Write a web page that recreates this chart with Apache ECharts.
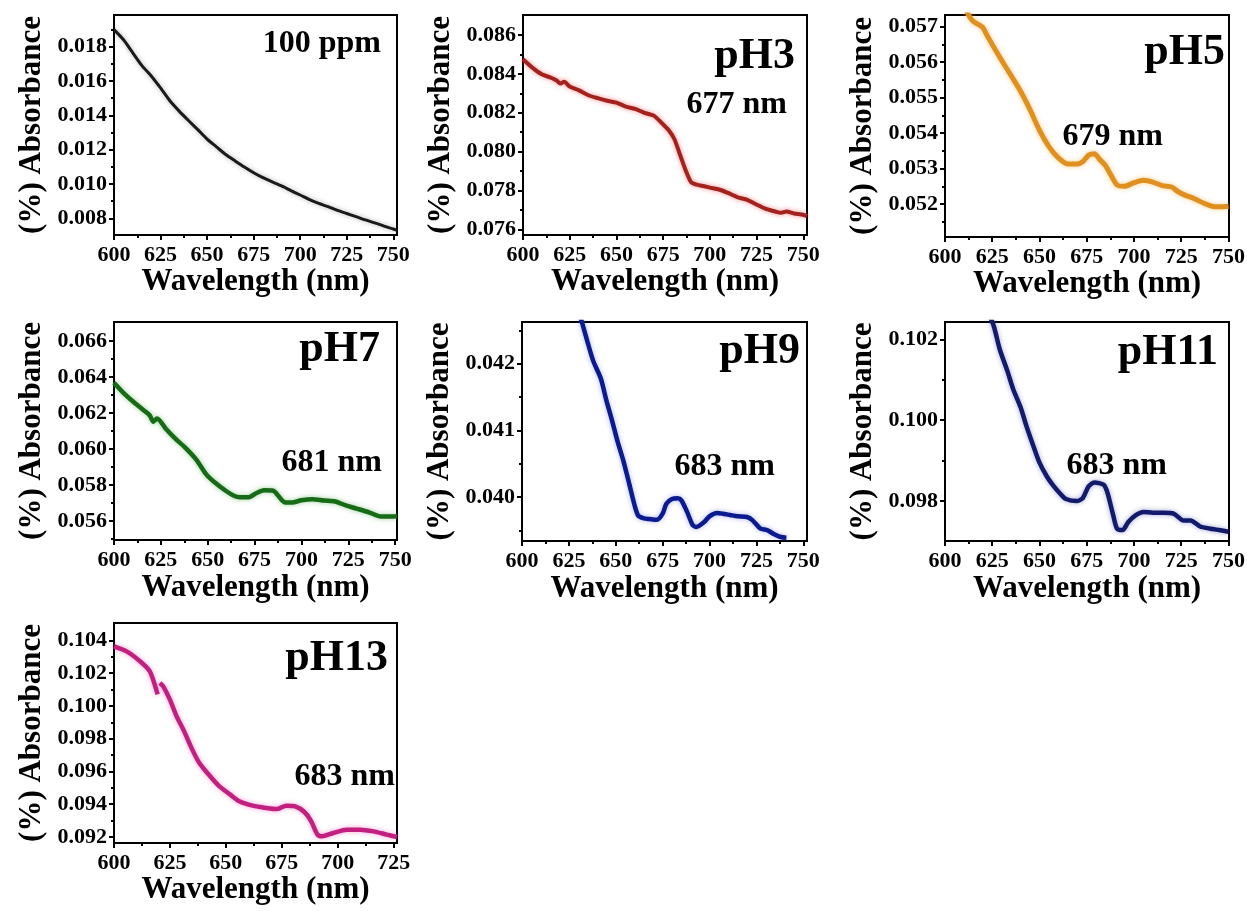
<!DOCTYPE html>
<html>
<head>
<meta charset="utf-8">
<script src="https://cdn.jsdelivr.net/npm/echarts@6/dist/echarts.min.js"></script>
<style>
html, body { margin: 0; padding: 0; background: #fff; }
#main { width: 1247px; height: 911px; }
</style>
</head>
<body>
<div id="main"></div>
<script>
// ---- spectra (wavelength nm / absorbance) ----
const wl100 = [600, 605, 610, 615, 620, 625, 630, 635, 640, 645, 650, 655, 660, 665, 670, 675, 680, 685, 690, 695, 700, 705, 710, 715, 720, 725, 730, 735, 740, 745, 750, 752]
const abs100 = [0.0190, 0.01842, 0.01766, 0.01690, 0.01630, 0.01560, 0.01485, 0.01425, 0.01370, 0.01317, 0.01262, 0.01217, 0.01172, 0.01135, 0.01099, 0.01066, 0.01037, 0.01012, 0.00989, 0.00962, 0.00936, 0.00909, 0.00887, 0.00868, 0.00846, 0.00828, 0.00810, 0.00791, 0.00774, 0.00755, 0.00738, 0.00730]

const wl3 = [600, 605, 610, 615, 618, 620, 622, 625, 630, 635, 640, 645, 650, 655, 660, 665, 670, 675, 678, 681, 684, 687, 690, 693, 697, 700, 705, 710, 715, 720, 725, 730, 735, 738, 741, 745, 750, 752]
const abs3 = [0.08475, 0.08432, 0.08398, 0.08380, 0.08366, 0.08350, 0.08360, 0.08335, 0.08315, 0.08290, 0.08275, 0.08262, 0.08252, 0.08232, 0.08220, 0.08200, 0.08185, 0.08140, 0.08110, 0.08065, 0.07985, 0.07905, 0.07842, 0.07830, 0.07822, 0.07815, 0.07805, 0.07786, 0.07765, 0.07752, 0.07728, 0.07705, 0.07692, 0.07685, 0.07692, 0.07682, 0.07675, 0.07668]

const wl5 = [610, 613, 615, 618, 620, 622, 625, 630, 635, 640, 645, 650, 655, 660, 665, 670, 673, 676, 679, 682, 685, 688, 691, 695, 700, 705, 710, 715, 720, 723, 727, 732, 737, 742, 746, 750]
const abs5 = [0.05760, 0.05728, 0.05715, 0.05705, 0.05698, 0.05678, 0.05650, 0.05605, 0.05562, 0.05518, 0.05466, 0.05408, 0.05362, 0.05330, 0.05313, 0.05313, 0.05320, 0.05338, 0.05342, 0.05325, 0.05308, 0.05280, 0.05254, 0.05250, 0.05260, 0.05267, 0.05262, 0.05252, 0.05248, 0.05236, 0.05225, 0.05215, 0.05202, 0.05193, 0.05192, 0.05194]

const wl7 = [600, 605, 610, 615, 619, 621, 623, 628, 633, 638, 644, 649, 654, 660, 664, 667, 672, 676, 680, 685, 688, 691, 695, 700, 706, 712, 718, 724, 730, 736, 742, 746, 751]
const abs7 = [0.06368, 0.06312, 0.06265, 0.06222, 0.06188, 0.06152, 0.06170, 0.06108, 0.06055, 0.06008, 0.05940, 0.05862, 0.05812, 0.05765, 0.05740, 0.05732, 0.05732, 0.05755, 0.05770, 0.05768, 0.05735, 0.05704, 0.05702, 0.05715, 0.05721, 0.05713, 0.05708, 0.05685, 0.05667, 0.05648, 0.05625, 0.05624, 0.05626]

const wl9 = [630, 632, 635, 638, 642, 645, 648, 651, 654, 657, 660, 662, 665, 668, 672, 675, 677, 680, 683, 685, 688, 691, 693, 697, 700, 704, 707, 711, 715, 720, 723, 727, 731, 734, 738, 741]
const abs9 = [0.04280, 0.04262, 0.04232, 0.04204, 0.04178, 0.04145, 0.04115, 0.04083, 0.04055, 0.04022, 0.03988, 0.03972, 0.03968, 0.03967, 0.03966, 0.03975, 0.03990, 0.03997, 0.03998, 0.03995, 0.03978, 0.03958, 0.03955, 0.03962, 0.03971, 0.03976, 0.03975, 0.03973, 0.03971, 0.03970, 0.03965, 0.03953, 0.03950, 0.03945, 0.03940, 0.03939]

const wl11 = [624, 626, 629, 633, 636, 640, 643, 647, 650, 654, 657, 661, 664, 670, 673, 676, 679, 684, 686, 689, 691, 694, 697, 701, 705, 710, 716, 721, 726, 730, 735, 740, 745, 750]
const abs11 = [0.10255, 0.10230, 0.10175, 0.10122, 0.10078, 0.10032, 0.09987, 0.09933, 0.09895, 0.09860, 0.09840, 0.09818, 0.09805, 0.09800, 0.09808, 0.09836, 0.09846, 0.09840, 0.09820, 0.09765, 0.09732, 0.09728, 0.09748, 0.09765, 0.09773, 0.09771, 0.09771, 0.09769, 0.09752, 0.09752, 0.09737, 0.09732, 0.09728, 0.09724]

// null = the small break in the pH13 trace near 620 nm
const wl13 = [600, 606, 612, 616, 619.5, 620, 620.5, 622, 625, 628, 631, 635, 638, 643, 647, 652, 656, 662, 668, 673, 677, 681, 685, 688, 691, 693, 698, 704, 710, 716, 722, 726.5]
const abs13 = [0.10363, 0.10330, 0.10268, 0.10211, 0.10070, null, 0.10140, 0.10119, 0.10038, 0.09936, 0.09855, 0.09733, 0.09655, 0.09570, 0.09510, 0.09458, 0.09418, 0.09391, 0.09377, 0.09370, 0.09391, 0.09387, 0.09354, 0.09300, 0.09214, 0.09204, 0.09224, 0.09244, 0.09244, 0.09234, 0.09214, 0.09200]

// ---- tick labels ----
const xTicks = [600, 625, 650, 675, 700, 725, 750]
const xMinor = [612.5, 637.5, 662.5, 687.5, 712.5, 737.5]
const xTicks13 = [600, 625, 650, 675, 700, 725]
const xMinor13 = [612.5, 637.5, 662.5, 687.5, 712.5]

const yTicks100 = [0.008, 0.010, 0.012, 0.014, 0.016, 0.018]
const yMinor100 = [0.009, 0.011, 0.013, 0.015, 0.017, 0.019]
const yTicks3 = [0.076, 0.078, 0.080, 0.082, 0.084, 0.086]
const yMinor3 = [0.077, 0.079, 0.081, 0.083, 0.085]
const yTicks5 = [0.052, 0.053, 0.054, 0.055, 0.056, 0.057]
const yMinor5 = [0.0515, 0.0525, 0.0535, 0.0545, 0.0555, 0.0565]
const yTicks7 = [0.056, 0.058, 0.060, 0.062, 0.064, 0.066]
const yMinor7 = [0.055, 0.057, 0.059, 0.061, 0.063, 0.065]
const yTicks9 = [0.040, 0.041, 0.042]
const yMinor9 = [0.0395, 0.0405, 0.0415, 0.0425]
const yTicks11 = [0.098, 0.100, 0.102]
const yMinor11 = [0.099, 0.101]
const yTicks13 = [0.092, 0.094, 0.096, 0.098, 0.100, 0.102, 0.104]
const yMinor13 = [0.093, 0.095, 0.097, 0.099, 0.101, 0.103]

const FONT = '"Liberation Serif", "Times New Roman", serif'

function pairs(xs, ys) {
    return xs.map((x, i) => [x, ys[i] === null ? '-' : ys[i]])
}

const panels = [
    {box: [114, 15, 283, 220], x: [600, 752], y: [0.00703, 0.01985], xt: xTicks, xm: xMinor, yt: yTicks100, ym: yMinor100,
        data: pairs(wl100, abs100), color: '#1a1a1a', glow: 'rgba(0,0,0,0.3)', lw: 3, xGap: 25,
        tag: '100 ppm', tagPos: [381, 44], tagSize: 32},
    {box: [523, 15, 284, 220], x: [600, 752], y: [0.07571, 0.08703], xt: xTicks, xm: xMinor, yt: yTicks3, ym: yMinor3,
        data: pairs(wl3, abs3), color: '#a3221d', glow: 'rgba(230,60,60,0.55)', lw: 4, xGap: 25,
        tag: 'pH3', tagPos: [795, 57], tagSize: 44, peak: '677 nm', peakPos: [787, 105]},
    {box: [945, 15, 284, 222], x: [600, 750.3], y: [0.05107, 0.05733], xt: xTicks, xm: xMinor, yt: yTicks5, ym: yMinor5,
        data: pairs(wl5, abs5), color: '#e0901f', glow: 'rgba(245,170,60,0.55)', lw: 5, xGap: 25,
        tag: 'pH5', tagPos: [1225, 53], tagSize: 44, peak: '679 nm', peakPos: [1163, 137]},
    {box: [114, 322, 283, 218], x: [600, 751], y: [0.05494, 0.06706], xt: xTicks, xm: xMinor, yt: yTicks7, ym: yMinor7,
        data: pairs(wl7, abs7), color: '#176b17', glow: 'rgba(60,160,60,0.5)', lw: 4.5, xGap: 32,
        tag: 'pH7', tagPos: [380, 350], tagSize: 44, peak: '681 nm', peakPos: [382, 463]},
    {box: [522, 322, 285, 219], x: [600, 752], y: [0.03934, 0.042625], xt: xTicks, xm: xMinor, yt: yTicks9, ym: yMinor9,
        data: pairs(wl9, abs9), color: '#0b1a8e', glow: 'rgba(50,70,200,0.4)', lw: 4.5, xGap: 32,
        tag: 'pH9', tagPos: [800, 352], tagSize: 44, peak: '683 nm', peakPos: [775, 467]},
    {box: [945, 322, 284, 219], x: [600, 750.3], y: [0.09701, 0.10243], xt: xTicks, xm: xMinor, yt: yTicks11, ym: yMinor11,
        data: pairs(wl11, abs11), color: '#121b6b', glow: 'rgba(50,60,150,0.45)', lw: 4.5, xGap: 32,
        tag: 'pH11', tagPos: [1218, 353], tagSize: 44, peak: '683 nm', peakPos: [1167, 466]},
    {box: [114, 623, 283, 220], x: [600, 726.5], y: [0.09163, 0.10506], xt: xTicks13, xm: xMinor13, yt: yTicks13, ym: yMinor13,
        data: pairs(wl13, abs13), color: '#c2207f', glow: 'rgba(230,80,170,0.5)', lw: 4.5, xGap: 31,
        tag: 'pH13', tagPos: [388, 659], tagSize: 44, peak: '683 nm', peakPos: [395, 777]}
]

const axisLine = {show: true, onZero: false, lineStyle: {color: '#000', width: 2}}
const tickLine = {color: '#000', width: 2}
const labelStyle = {color: '#000', fontFamily: FONT, fontWeight: 'bold', fontSize: 22}
const titleStyle = {color: '#000', fontFamily: FONT, fontWeight: 'bold', fontSize: 31}

let grids = [], xAxes = [], yAxes = [], series = [], texts = []

panels.forEach((p, i) => {
    grids.push({
        left: p.box[0], top: p.box[1], width: p.box[2], height: p.box[3],
        show: true, borderColor: '#000', borderWidth: 2, backgroundColor: 'transparent',
        containLabel: false, outerBoundsMode: 'none'
    })
    // main x axis + one only for the minor ticks
    xAxes.push({
        type: 'value', gridIndex: i, position: 'bottom', min: p.x[0], max: p.x[1],
        name: 'Wavelength (nm)', nameLocation: 'middle', nameGap: p.xGap, nameTextStyle: titleStyle,
        axisLine: axisLine,
        axisTick: {show: true, inside: false, length: 5, customValues: p.xt, lineStyle: tickLine},
        axisLabel: Object.assign({customValues: p.xt, margin: 9, formatter: v => String(v)}, labelStyle),
        splitLine: {show: false}
    })
    xAxes.push({
        type: 'value', gridIndex: i, position: 'bottom', offset: 0, min: p.x[0], max: p.x[1],
        axisLine: {show: false, onZero: false},
        axisTick: {show: true, inside: false, length: 3, customValues: p.xm, lineStyle: tickLine},
        axisLabel: {show: false}, splitLine: {show: false}
    })
    yAxes.push({
        type: 'value', gridIndex: i, position: 'left', min: p.y[0], max: p.y[1],
        name: '(%) Absorbance', nameLocation: 'middle', nameGap: 67, nameTextStyle: titleStyle,
        axisLine: axisLine,
        axisTick: {show: true, inside: false, length: 5, customValues: p.yt, lineStyle: tickLine},
        axisLabel: Object.assign({customValues: p.yt, margin: 7, formatter: v => v.toFixed(3)}, labelStyle),
        splitLine: {show: false}
    })
    yAxes.push({
        type: 'value', gridIndex: i, position: 'left', offset: 0, min: p.y[0], max: p.y[1],
        axisLine: {show: false, onZero: false},
        axisTick: {show: true, inside: false, length: 3, customValues: p.ym, lineStyle: tickLine},
        axisLabel: {show: false}, splitLine: {show: false}
    })
    series.push({
        type: 'line', xAxisIndex: i * 2, yAxisIndex: i * 2, data: p.data,
        showSymbol: false, symbol: 'none', smooth: 0.25, connectNulls: false, clip: true,
        lineStyle: {color: p.color, width: p.lw, shadowColor: p.glow, shadowBlur: 5},
        silent: true, animation: false
    })
    texts.push({
        type: 'text', x: p.tagPos[0], y: p.tagPos[1],
        style: {text: p.tag, fill: '#000', fontFamily: FONT, fontWeight: 'bold', fontSize: p.tagSize,
            align: 'right', verticalAlign: 'middle', textAlign: 'right', textVerticalAlign: 'middle'}
    })
    if (p.peak) {
        texts.push({
            type: 'text', x: p.peakPos[0], y: p.peakPos[1],
            style: {text: p.peak, fill: '#000', fontFamily: FONT, fontWeight: 'bold', fontSize: 32,
                align: 'right', verticalAlign: 'middle', textAlign: 'right', textVerticalAlign: 'middle'}
        })
    }
})

const chart = echarts.init(document.getElementById('main'), null, {renderer: 'canvas'})
chart.setOption({
    animation: false,
    backgroundColor: '#fff',
    grid: grids,
    xAxis: xAxes,
    yAxis: yAxes,
    series: series,
    graphic: texts
})
</script>
</body>
</html>
